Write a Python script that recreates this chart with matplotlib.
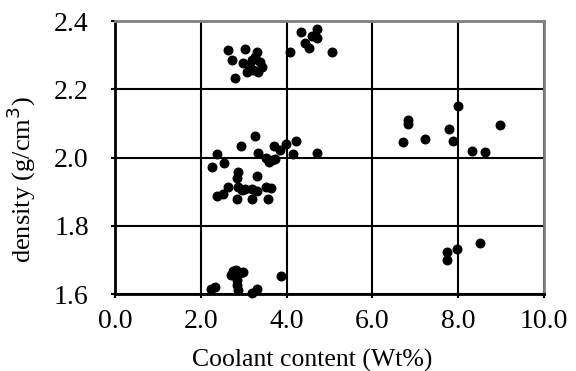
import numpy as np
import matplotlib.pyplot as plt

plt.rcParams['font.family'] = ['Liberation Serif', 'DejaVu Serif']

# coolant content (Wt%) and density (g/cm3)
coolant = [
    # upper cluster near 2.3
    2.63, 3.02, 3.30, 2.72, 2.98, 3.19, 3.37, 3.42, 3.07, 3.21, 3.33, 2.79, 3.26, 3.14,
    4.33, 4.72, 4.70, 4.42, 4.53, 4.09, 5.05, 4.60,
    # middle cluster near 2.0
    3.26, 2.93, 2.37, 2.26, 2.53, 3.33, 3.70, 3.84, 3.98, 4.21, 4.14, 4.72,
    3.53, 3.65, 3.72, 3.58,
    2.86, 2.84, 3.30, 2.86, 2.63, 2.37, 2.51, 3.02, 3.19, 3.30, 3.53, 3.63,
    2.84, 3.19, 3.56, 2.95,
    # lower cluster near 1.6
    2.23, 2.33, 2.74, 2.91, 2.70, 2.84, 2.84, 2.86, 3.19, 3.30, 3.86, 2.81, 2.98,
    # right groups
    6.84, 6.84, 6.72, 7.22, 7.80, 7.88, 8.00, 8.33, 8.63, 8.98,
    7.74, 7.74, 7.98, 8.51,
]
density = [
    2.315, 2.318, 2.309, 2.286, 2.277, 2.286, 2.280, 2.265, 2.251, 2.256, 2.251, 2.233, 2.294, 2.265,
    2.368, 2.377, 2.350, 2.336, 2.321, 2.309, 2.309, 2.356,
    2.063, 2.034, 2.010, 1.972, 1.984, 2.013, 2.034, 2.022, 2.040, 2.048, 2.010, 2.013,
    1.999, 1.993, 1.996, 1.987,
    1.957, 1.940, 1.946, 1.914, 1.914, 1.887, 1.893, 1.908, 1.908, 1.902, 1.914, 1.911,
    1.878, 1.878, 1.878, 1.905,
    1.615, 1.621, 1.667, 1.662, 1.656, 1.641, 1.626, 1.612, 1.603, 1.615, 1.653, 1.670, 1.665,
    2.110, 2.098, 2.045, 2.055, 2.085, 2.050, 2.150, 2.018, 2.016, 2.095,
    1.723, 1.700, 1.732, 1.749,
]

x_ticks = [0, 2, 4, 6, 8, 10]
y_ticks = [1.6, 1.8, 2.0, 2.2, 2.4]

fig = plt.figure(figsize=(5.76, 3.71), dpi=100)
ax = fig.add_axes([0.2, 0.2075, 0.744, 0.7355])

ax.scatter(coolant, density, s=38, color='black', zorder=3, clip_on=False)

ax.set_xlim(0, 10)
ax.set_ylim(1.6, 2.4)
ax.set_xticks(x_ticks)
ax.set_xticklabels(['%.1f' % v for v in x_ticks])
ax.set_yticks(y_ticks)
ax.set_yticklabels(['%.1f' % v for v in y_ticks])
ax.tick_params(labelsize=20, direction='out', length=3, width=1.5)
ax.tick_params(axis='x', pad=8)
ax.tick_params(axis='y', pad=16)

ax.grid(True, color='black', linewidth=1.5)
ax.set_axisbelow(True)

for side in ['left', 'bottom']:
    ax.spines[side].set_color('black')
    ax.spines[side].set_linewidth(2)
for side in ['top', 'right']:
    ax.spines[side].set_color('#808080')
    ax.spines[side].set_linewidth(2)

ax.set_xlabel('Coolant content (Wt%)', fontsize=18.5)
ax.set_ylabel('density (g/cm$^3$)', fontsize=19)
ax.xaxis.set_label_coords(0.46, -0.2)
ax.yaxis.set_label_coords(-0.18, 0.42)

fig.savefig('out.png', dpi=100)
